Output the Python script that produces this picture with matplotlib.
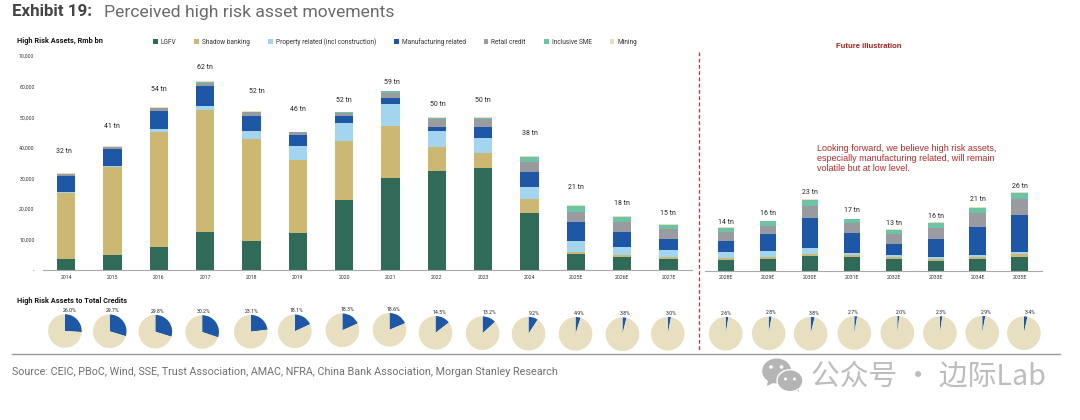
import matplotlib
matplotlib.use("Agg")
import matplotlib.pyplot as plt
from matplotlib.patches import Ellipse, Polygon
from matplotlib.ticker import FuncFormatter

plt.rcParams['font.family'] = ['Roboto', 'DejaVu Sans']

# data, Rmb bn
years = ['2014', '2015', '2016', '2017', '2018', '2019', '2020', '2021', '2022', '2023', '2024',
         '2025E', '2026E', '2027E', '2028E', '2029E', '2030E', '2031E', '2032E', '2033E', '2034E', '2035E']
lgfv = [3700, 4900, 7600, 12300, 9500, 12200, 23000, 30200, 32500, 33350, 18750,
        5100, 4360, 3600, 3270, 3600, 4580, 4360, 3700, 3160, 3600, 4470]
shadow = [21600, 28700, 37640, 40040, 33250, 23800, 19200, 16900, 7600, 5050, 4350,
          800, 640, 650, 760, 650, 650, 540, 660, 440, 650, 760]
property_rel = [300, 400, 860, 1310, 2620, 4400, 6000, 7100, 5470, 4670, 4000,
                3500, 2600, 2290, 2170, 2050, 1970, 660, 640, 650, 750, 660]
manufacturing = [5250, 5600, 6000, 6550, 4910, 3660, 2300, 2060, 1330, 3610, 4950,
                 6300, 4900, 3710, 3400, 5700, 9900, 6640, 3600, 6100, 9060, 12310]
retail = [650, 700, 900, 1070, 1400, 940, 950, 1740, 2600, 2620, 3350,
          3400, 3300, 3250, 2900, 2600, 4050, 3170, 3170, 3600, 4580, 5100]
sme = [0, 0, 100, 100, 100, 0, 100, 400, 200, 530, 1650,
       1800, 1500, 1200, 1340, 1400, 1850, 1330, 1530, 1650, 1860, 1900]
mining = [200, 400, 300, 530, 320, 300, 250, 200, 200, 170, 250,
          250, 250, 200, 200, 240, 300, 200, 200, 200, 300, 500]
series = [lgfv, shadow, property_rel, manufacturing, retail, sme, mining]
series_names = ['LGFV', 'Shadow banking', 'Property related (incl construction)', 'Manufacturing related',
                'Retail credit', 'Inclusive SME', 'Mining']
total_labels = ['32 tn', '41 tn', '54 tn', '62 tn', '52 tn', '46 tn', '52 tn', '59 tn', '50 tn', '50 tn', '38 tn',
                '21 tn', '18 tn', '15 tn', '14 tn', '16 tn', '23 tn', '17 tn', '13 tn', '16 tn', '21 tn', '26 tn']
credit_share = [26.0, 29.7, 29.8, 30.2, 23.1, 18.1, 18.3, 18.6, 14.5, 13.2, 9.2,
                4.9, 3.8, 3.0, 2.6, 2.8, 3.8, 2.7, 2.0, 2.3, 2.9, 3.4]

colors = ['#2F6B58', '#CDB873', '#A3D5EF', '#1D57A5', '#9A9BA0', '#6CC4A4', '#E8DFC0']
W, H = 1080, 420
N_LEFT = 14

# hand placed offsets, pixels
label_gap = [22, 19, 17, 13, 19, 22, 11, 8, 12.5, 17, 22, 18, 13, 11, 5, 7, 7, 8.5, 6, 6, 7, 5]
label_dx = [-2, -0.5, 0, 0, 5.7, -0.3, 0, 1.7, 0.7, 0, 0.3, -0.3, 0, -1, 0, 0, 0.4, 0.4, 0.4, 0, 0.4, 0]
pie_dx = [-1.3, -2.8, -3.5, -3, -0.7, -3, -1.8, -1, -1.3, -0.6, -1, -0.3, 0.3, -0.7,
          -0.3, 0.7, 0.7, 2.4, 3.4, 4, 4.4, 4]
pie_y = [331, 331.3, 331.7, 332, 331.7, 331.3, 330.3, 329.8, 332.8, 333.2, 333.7, 333.8, 334.2, 333.7,
         333.7, 333.3, 333.7, 333, 332.7, 333, 332.7, 333.2]
pct_dx = [4.6, 3, 2.7, 1, 0.7, 1.3, 5, 4, 3.6, 7, 6, 4, 3, 3, 0.6, 3, 3.7, -0.7, 3.6, 1.4, 4, 6]
PIE_R = 16.8


def box(x0, y0, x1, y1):
    # pixel box (y from the top) to figure fraction
    return [x0 / W, 1 - y1 / H, (x1 - x0) / W, (y1 - y0) / H]


def stacked(ax, idx, xs):
    bottom = [0] * len(idx)
    bars = []
    for vals, c, name in zip(series, colors, series_names):
        part = [vals[i] for i in idx]
        bars.append(ax.bar(xs, part, 0.4, bottom=bottom, color=c, label=name, linewidth=0))
        bottom = [b + p for b, p in zip(bottom, part)]
    for x, i, top in zip(xs, idx, bottom):
        ax.annotate(total_labels[i], (x, top), xytext=(label_dx[i] * 0.72, label_gap[i] * 0.72),
                    textcoords='offset points', ha='center', va='center', fontsize=5, color='#222222')
    ax.set_xticks(xs)
    ax.set_xticklabels([years[i] for i in idx])
    ax.set_ylim(0, 70000)
    for s in ['top', 'left', 'right']:
        ax.spines[s].set_visible(False)
    ax.spines['bottom'].set_color('#A8A8A8')
    ax.spines['bottom'].set_linewidth(0.8)
    ax.tick_params(axis='x', length=0, labelsize=3.7, pad=3.5, labelcolor='#333333')
    ax.patch.set_alpha(0)
    return bars


fig = plt.figure(figsize=(W / 100, H / 100), dpi=100)

ax_l = fig.add_axes(box(43, 56, 691.7, 270))
ax_r = fig.add_axes(box(704.7, 56, 1041.7, 270.5))
idx_l = list(range(N_LEFT))
idx_r = list(range(N_LEFT, len(years)))
bars = stacked(ax_l, idx_l, list(range(len(idx_l))))
stacked(ax_r, idx_r, list(range(len(idx_r))))
ax_l.set_xlim(-0.5, 13.5)
ax_r.set_xlim(-0.507, 7.52)

ax_l.set_yticks(range(0, 70001, 10000))
ax_l.yaxis.set_major_formatter(FuncFormatter(lambda v, p: '-' if v == 0 else f'{int(v):,}'))
ax_l.tick_params(axis='y', length=0, labelsize=3.7, pad=6, labelcolor='#333333')
ax_r.set_yticks([])

fig.legend(handles=[b[0] for b in bars], labels=series_names, ncols=7, frameon=False, fontsize=4.7,
           loc='center left', bbox_to_anchor=(153 / W, 1 - 42 / H), columnspacing=2.8,
           handlelength=0.7, handleheight=0.7, handletextpad=0.45, borderpad=0, borderaxespad=0,
           labelcolor='#333333')

# pies, one small axes each, placed under the bars
fig.canvas.draw()
for i, share in enumerate(credit_share):
    src = ax_l if i < N_LEFT else ax_r
    pos = i if i < N_LEFT else i - N_LEFT
    cx = src.transData.transform((pos, 0))[0] + pie_dx[i]
    cy = pie_y[i]
    a = fig.add_axes(box(cx - PIE_R, cy - PIE_R, cx + PIE_R, cy + PIE_R))
    a.pie([share, 100 - share], colors=['#1D57A5', '#E8DFC0'], startangle=90, counterclock=False,
          radius=1, wedgeprops={'linewidth': 0})
    a.set_xlim(-1, 1)
    a.set_ylim(-1, 1)
    fig.text((cx + pct_dx[i]) / W, 1 - (cy - 20.5) / H, f'{share:.1f}%', ha='center', va='center',
             fontsize=3.7, color='#222222')

fig.text(12 / W, 1 - 12 / H, 'Exhibit 19:', fontsize=12.2, fontweight='bold', color='#444444', va='center')
fig.text(104 / W, 1 - 12 / H, 'Perceived high risk asset movements', fontsize=12.6,
         color='#6A6A6A', va='center')
fig.text(17.3 / W, 1 - 41 / H, 'High Risk Assets, Rmb bn', fontsize=5.3, fontweight='bold', color='#111111', va='center')
fig.text(17.3 / W, 1 - 300.7 / H, 'High Risk Assets to Total Credits', fontsize=5.3, fontweight='bold',
         color='#111111', va='center')
fig.text(868.5 / W, 1 - 46 / H, 'Future illustration', fontsize=5.5, fontweight='bold', color='#A8201A',
         ha='center', va='center', family=['Liberation Sans'])
fig.text(816.7 / W, 1 - 158.5 / H, 'Looking forward, we believe high risk assets,\n'
         'especially manufacturing related, will remain\nvolatile but at low level.',
         fontsize=6.5, color='#B22A2A', va='center', linespacing=1.13, family=['Liberation Sans'])
fig.text(12 / W, 1 - 372 / H, 'Source: CEIC, PBoC, Wind, SSE, Trust Association, AMAC, NFRA, China Bank Association, '
         'Morgan Stanley Research', fontsize=7.75, color='#707070', va='center')
fig.text(811 / W, 1 - 376.5 / H, '公众号 · 边际Lab', fontsize=20.7, color='#BDBDBD', va='center',
         family=['Noto Sans CJK SC', 'DejaVu Sans'])

# overlay in pixel units for the rule lines and the watermark icon
over = fig.add_axes([0, 0, 1, 1], zorder=5)
over.set_xlim(0, W)
over.set_ylim(H, 0)
over.axis('off')
over.plot([699, 699], [52, 352], color='#C0313A', lw=0.9, ls=(0, (3, 2)))
over.plot([12, 1060], [354.3, 354.3], color='#9A9A9A', lw=1)
over.add_patch(Ellipse((776.7, 371), 29, 25, color='#B5B5B5', lw=0))
over.add_patch(Polygon([[768, 380], [767, 386], [775, 382]], color='#B5B5B5', lw=0))
over.add_patch(Polygon([[794, 388], [799, 392], [798, 384]], color='#B5B5B5', lw=0))
over.add_patch(Ellipse((790, 380.7), 26, 22, facecolor='#B5B5B5', edgecolor='white', lw=1))
for ex, ey, er in [(771, 367, 1.8), (781.5, 367, 1.8), (785.5, 379, 1.5), (794.5, 379, 1.5)]:
    over.add_patch(Ellipse((ex, ey), er * 2, er * 2, color='white', lw=0))

fig.savefig('out.png', dpi=100)
